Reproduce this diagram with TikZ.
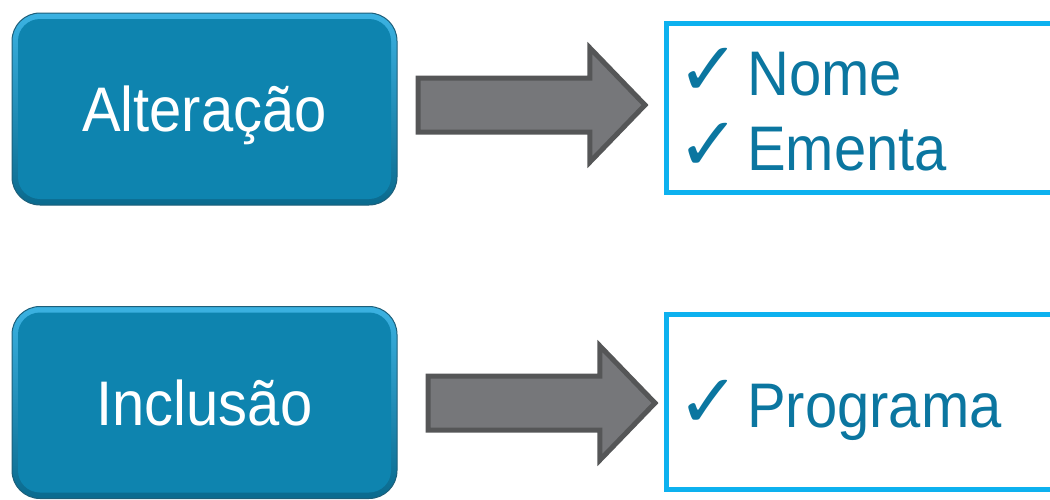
\documentclass[tikz,border=0pt]{standalone}
\usepackage{fontspec}
\setmainfont[FakeStretch=0.92]{Liberation Sans}
\newfontfamily\chkfont{DejaVu Sans}
\usetikzlibrary{shapes.arrows}

\definecolor{faceblue}{HTML}{0E84AF}
\definecolor{rimlight}{HTML}{3BB2E2}
\definecolor{rimdark}{HTML}{0A6A8E}
\definecolor{edgeblue}{HTML}{1D5F7A}
\definecolor{listblue}{HTML}{0DB1EF}
\definecolor{itemblue}{HTML}{0B76A0}
\definecolor{arrowgray}{HTML}{76777A}
\definecolor{arrowedge}{HTML}{555657}

\newcommand{\tickmark}{\makebox[60pt][l]{\hspace*{-10pt}\chkfont\fontsize{75}{75}\selectfont ✓}}

\tikzset{
  btn/.style={rounded corners=28pt, minimum width=385pt, minimum height=192pt,
    top color=rimlight, bottom color=rimdark, draw=edgeblue, line width=1pt,
    text=white, font=\fontsize{63}{70}\selectfont, text height=45pt, text depth=0pt,
    path picture={\fill[faceblue, rounded corners=22pt]
      ([shift={(6,6)}]path picture bounding box.north west) rectangle
      ([shift={(-6,-6)}]path picture bounding box.south east);}},
  bigarrow/.style={single arrow, single arrow head extend=30pt,
    single arrow tip angle=92, fill=arrowgray, draw=arrowedge, line width=5pt,
    inner xsep=0pt, inner ysep=24.5pt, minimum height=227pt, anchor=tail},
  listbox/.style={draw=listblue, line width=5pt, minimum width=420pt, anchor=north west},
  item/.style={anchor=base west, inner sep=0pt, text=itemblue, font=\fontsize{63}{70}\selectfont}
}

\begin{document}
\begin{tikzpicture}[x=1pt, y=-1pt]
\useasboundingbox (0,0) rectangle (1050,499);

\node[btn] (A) at (204.5,109) {Altera\c{c}\~ao};
\node[btn] (I) at (204.5,402.5) {Inclus\~ao};

\node[bigarrow] (AA) at (415.5,105) {};
\node[bigarrow] (IA) at (425.5,403) {};

\node[listbox, minimum height=169pt] (LA) at (663.5,20.5) {};
\node[listbox, minimum height=175pt] (LI) at (663.5,311.5) {};

\node[item] (N) at (687,95) {\tickmark Nome};
\node[item] (E) at (687,170) {\tickmark Ementa};
\node[item] (P) at (687,427) {\tickmark Programa};
\end{tikzpicture}
\end{document}
